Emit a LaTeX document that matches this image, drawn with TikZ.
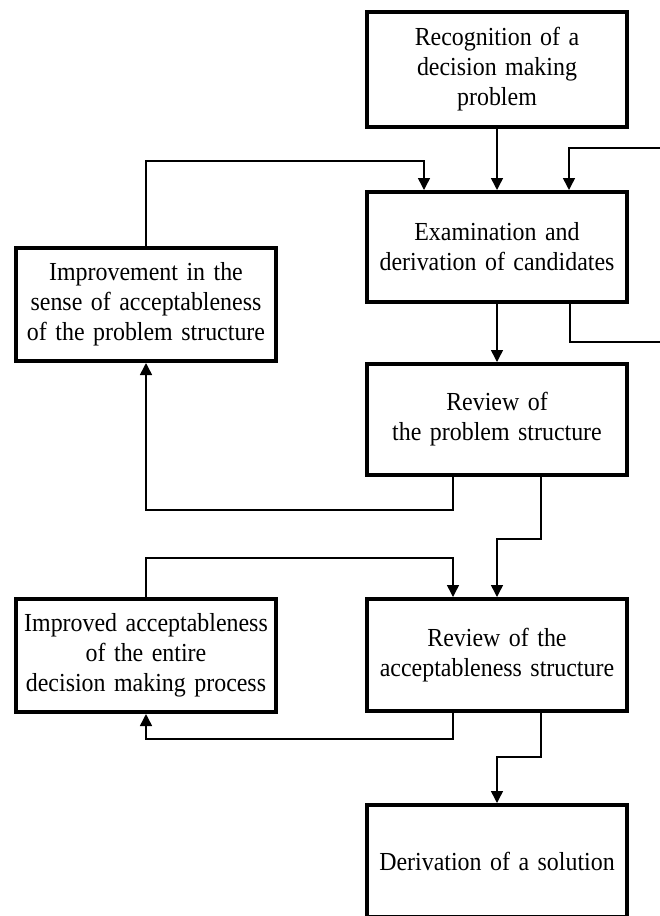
\documentclass[tikz,border=0pt]{standalone}
\usepackage{fontspec}
\setmainfont{Liberation Serif}[FakeStretch=0.92]
\usetikzlibrary{arrows.meta}
\newcommand\boxfont{\fontsize{26}{30}\selectfont\spaceskip=8.5pt plus 2pt minus 1pt\relax}

\begin{document}
\begin{tikzpicture}[x=1pt, y=-1pt,
		block/.style={draw, line width=4pt, minimum width=260pt, inner sep=0pt, align=center, font=\boxfont},
		link/.style={line width=1.5pt, -{Triangle[length=12pt, width=12pt]}}]
		\useasboundingbox (0,0) rectangle (660,916);
		\node[block, minimum height=115pt] (recog) at (497,69.5) {Recognition of a\\decision making\\problem};
		\node[block, minimum height=110pt] (exam) at (497,247) {Examination and\\derivation of candidates};
		\node[block, minimum height=113pt] (improve) at (146,304.5) {Improvement in the\\sense of acceptableness\\of the problem structure};
		\node[block, minimum height=111pt] (revprob) at (497,419.5) {Review of\\the problem structure};
		\node[block, minimum height=113pt] (improved) at (146,655.5) {Improved acceptableness\\of the entire\\decision making process};
		\node[block, minimum height=112pt] (revacc) at (497,655) {Review of the\\acceptableness structure};
		\node[block, minimum height=112pt] (solution) at (497,861) {Derivation of a solution};
		\coordinate (inR) at (660,148);
		\coordinate (outR) at (660,342);
		\draw[link] (recog) -- (exam);
		\draw[link] (inR) -| ([xshift=72pt]exam.north);
		\draw[link] (improve.north) -- ++(0,-85) -| ([xshift=-73pt]exam.north);
		\draw[link, -] ([xshift=73pt]exam.south) |- (outR);
		\draw[link] (exam) -- (revprob);
		\draw[link] ([xshift=-44pt]revprob.south) -- ++(0,33) -| (improve.south);
		\draw[link] ([xshift=44pt]revprob.south) -- ++(0,62) -| (revacc.north);
		\draw[link] (improved.north) -- ++(0,-39) -| ([xshift=-44pt]revacc.north);
		\draw[link] ([xshift=-44pt]revacc.south) -- ++(0,26) -| (improved.south);
		\draw[link] ([xshift=44pt]revacc.south) -- ++(0,44) -| (solution.north);
	\end{tikzpicture}
\end{document}
